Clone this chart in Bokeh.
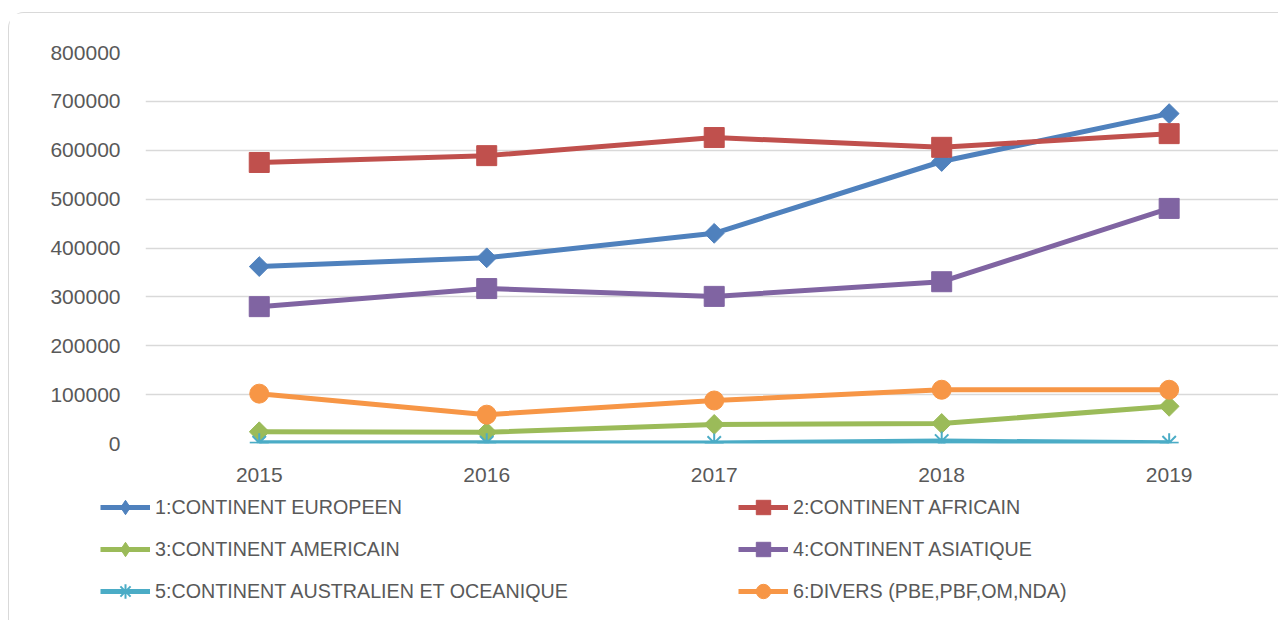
import math
from bokeh.plotting import figure
from bokeh.models import Range1d, FixedTicker, BasicTickFormatter, Legend, LegendItem
from bokeh.embed import file_html
from bokeh.resources import INLINE

years = [2015, 2016, 2017, 2018, 2019]
europeen = [362000, 380000, 430000, 577000, 675000]
africain = [575000, 589000, 626000, 606000, 634000]
americain = [24000, 23000, 39000, 41000, 76000]
asiatique = [280000, 317000, 301000, 331000, 481000]
australien = [1500, 1500, 1200, 5000, 1500]
divers = [102000, 59000, 88000, 110000, 110000]

labels = [
    "1:CONTINENT EUROPEEN",
    "2:CONTINENT AFRICAIN",
    "3:CONTINENT AMERICAIN",
    "4:CONTINENT ASIATIQUE",
    "5:CONTINENT AUSTRALIEN ET OCEANIQUE",
    "6:DIVERS (PBE,PBF,OM,NDA)",
]
y_ticks = [0, 100000, 200000, 300000, 400000, 500000, 600000, 700000, 800000]

FONT = "Liberation Sans"
TXT = "#595959"
BORDER = "1px solid #d9d9d9"

p = figure(width=1270, height=480, output_backend="svg", toolbar_location=None,
           x_range=Range1d(2014.5, 2019.485), y_range=Range1d(0, 800000),
           min_border_left=136, min_border_right=0, min_border_top=39, min_border_bottom=50)
p.styles = {"margin-left": "8px", "margin-top": "12px", "border-left": BORDER,
            "border-top": BORDER, "border-top-left-radius": "16px"}
p.outline_line_color = None
p.background_fill_color = "white"
p.border_fill_color = "white"

p.xgrid.grid_line_color = None
p.ygrid.grid_line_color = "#d9d9d9"
p.ygrid.grid_line_width = 1.5

p.yaxis.ticker = FixedTicker(ticks=y_ticks)
p.yaxis.formatter = BasicTickFormatter(use_scientific=False)
p.xaxis.ticker = FixedTicker(ticks=years)
for ax in (p.xaxis, p.yaxis):
    ax.axis_line_color = None
    ax.major_tick_line_color = None
    ax.minor_tick_line_color = None
    ax.major_label_text_font = FONT
    ax.major_label_text_font_size = "21px"
    ax.major_label_text_color = TXT
p.yaxis.major_label_standoff = 19
p.xaxis.major_label_standoff = 18

D45 = math.pi / 4
# (values, colour, chart marker, size, angle, legend marker)
series = [
    (europeen, "#4F81BD", "square", 14, D45, "diamond"),
    (africain, "#C0504D", "square", 20, 0, "square"),
    (americain, "#9BBB59", "square", 14, D45, "diamond"),
    (asiatique, "#8064A2", "square", 20, 0, "square"),
    (australien, "#4BACC6", "asterisk", 19, 0, "asterisk"),
    (divers, "#F79646", "circle", 19, 0, "circle"),
]

# legend-only figure placed below the chart (its glyphs fall outside its view)
p2 = figure(width=1270, height=128, output_backend="svg", toolbar_location=None,
            x_range=Range1d(0, 1), y_range=Range1d(0, 1),
            min_border=0, min_border_left=0, min_border_right=0,
            min_border_top=0, min_border_bottom=0)
p2.styles = {"margin-left": "8px", "border-left": BORDER}
p2.axis.visible = False
p2.grid.visible = False
p2.outline_line_color = None
p2.background_fill_color = "white"
p2.border_fill_color = "white"

items = []
for (vals, color, marker, size, ang, lmarker), lab in zip(series, labels):
    p.line(years, vals, line_color=color, line_width=5)
    kw = dict(marker=marker, size=size, angle=ang, fill_color=color, line_color=color)
    if marker == "asterisk":
        kw["line_width"] = 2
    p.scatter(years, vals, **kw)
    lr = p2.line(years, vals, line_color=color, line_width=5)
    lkw = dict(kw, marker=lmarker, angle=0)
    sr = p2.scatter(years, vals, **lkw)
    items.append(LegendItem(label=lab, renderers=[lr, sr]))

legend = Legend(items=items, orientation="horizontal", ncols=2,
                location=(91, 11), padding=0, margin=0, spacing=6,
                glyph_width=50, glyph_height=36, label_height=24, label_width=577,
                label_standoff=5, label_text_font=FONT, label_text_font_size="19.7px",
                label_text_color=TXT, border_line_color=None, background_fill_alpha=0)
p2.add_layout(legend, "center")

open("out.html", "w").write(file_html([p, p2], INLINE))
